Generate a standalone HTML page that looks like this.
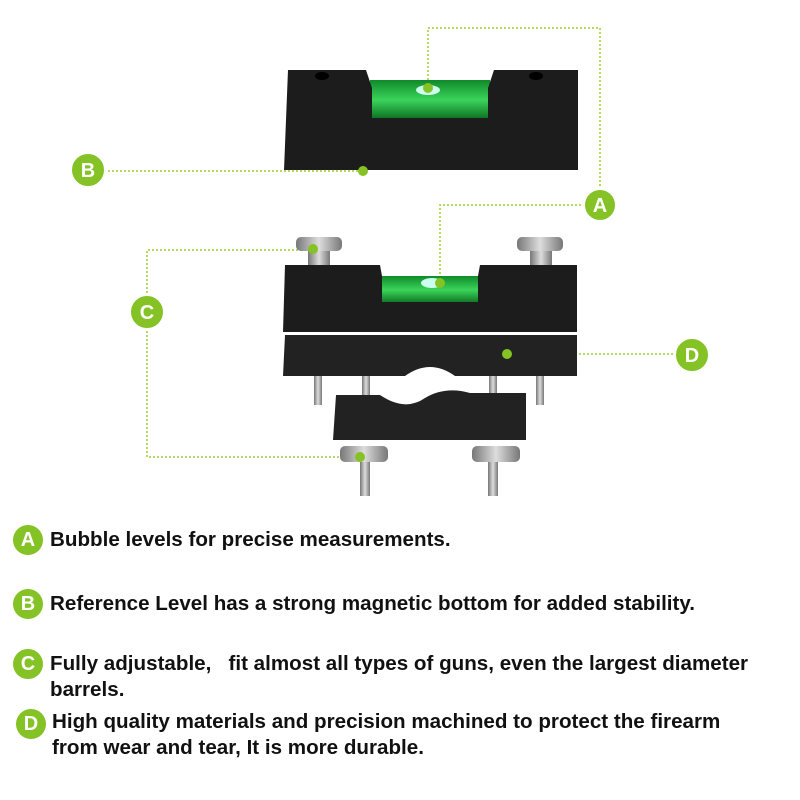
<!DOCTYPE html>
<html><head><style>
body{margin:0;width:800px;height:800px;background:#fff;overflow:hidden;position:relative;font-family:"Liberation Sans",sans-serif}
.t{position:absolute;left:50px;font-weight:bold;font-size:20.6px;color:#111;line-height:26px;white-space:nowrap}
.c{position:absolute;width:30px;height:30px;border-radius:50%;background:#84c225;color:#fff;font-weight:bold;font-size:20px;text-align:center;line-height:30px}
</style></head><body>
<svg width="800" height="520" style="position:absolute;left:0;top:0">
<defs>
<linearGradient id="g" x1="0" y1="0" x2="0" y2="1"><stop offset="0" stop-color="#0f8a2a"/><stop offset=".5" stop-color="#3bd45a"/><stop offset="1" stop-color="#0a6a1e"/></linearGradient>
<linearGradient id="m" x1="0" y1="0" x2="1" y2="0"><stop offset="0" stop-color="#777"/><stop offset=".5" stop-color="#ddd"/><stop offset="1" stop-color="#777"/></linearGradient>
</defs>
<g stroke="#9acd32" stroke-width="1.5" stroke-dasharray="2,2" fill="none">
<polyline points="600,190 600,28 428,28 428,88"/>
<polyline points="100,171 363,171"/>
<polyline points="585,205 440,205 440,283"/>
<polyline points="147,297 147,250 313,250"/>
<polyline points="147,327 147,457 360,457"/>
<polyline points="677,354 507,354"/>
</g>
<rect x="370" y="80" width="120" height="40" fill="url(#g)"/>
<path d="M288,70 L366,70 L372,88 L488,88 L494,70 L578,70 L578,170 L284,170 Z M372,88 L372,118 L488,118 L488,88Z" fill="#1c1c1c" fill-rule="evenodd"/>
<ellipse cx="322" cy="76" rx="7" ry="4" fill="#000"/><ellipse cx="536" cy="76" rx="7" ry="4" fill="#000"/>
<ellipse cx="428" cy="90" rx="12" ry="5" fill="#cfe"/>
<g fill="url(#m)">
<rect x="314" y="370" width="8" height="35"/><rect x="362" y="370" width="8" height="30"/><rect x="489" y="370" width="8" height="30"/><rect x="536" y="370" width="8" height="35"/>
<rect x="360" y="460" width="10" height="36"/><rect x="488" y="460" width="10" height="36"/>
<rect x="308" y="248" width="22" height="22"/><rect x="530" y="248" width="22" height="22"/>
<rect x="296" y="237" width="46" height="14" rx="5"/><rect x="517" y="237" width="46" height="14" rx="5"/>
<rect x="340" y="446" width="48" height="16" rx="5"/><rect x="472" y="446" width="48" height="16" rx="5"/>
</g>
<rect x="380" y="276" width="100" height="28" fill="url(#g)"/>
<path d="M285,265 L380,265 L382,276 L478,276 L480,265 L577,265 L577,332 L283,332 Z M382,276 L382,302 L478,302 L478,276Z" fill="#1c1c1c" fill-rule="evenodd"/>
<ellipse cx="432" cy="283" rx="11" ry="5" fill="#cfe"/>
<path d="M285,335 L577,335 L577,376 L455,376 Q430,358 405,376 L283,376 Z" fill="#222"/>
<path d="M336,395 L380,395 Q405,412 425,398 Q445,386 470,393 L526,393 L526,440 L333,440 Z" fill="#222"/>
<g fill="#84c225"><circle cx="428" cy="88" r="5"/><circle cx="363" cy="171" r="5"/><circle cx="440" cy="283" r="5"/><circle cx="313" cy="249" r="5"/><circle cx="360" cy="457" r="5"/><circle cx="507" cy="354" r="5"/></g>
<g fill="#84c225" stroke="#fff" stroke-width="2"><circle cx="600" cy="205" r="16"/><circle cx="88" cy="170" r="17"/><circle cx="147" cy="312" r="17"/><circle cx="692" cy="355" r="17"/></g>
<g fill="#fff" font-weight="bold" font-size="20" text-anchor="middle" font-family="Liberation Sans,sans-serif"><text x="600" y="212">A</text><text x="88" y="177">B</text><text x="147" y="319">C</text><text x="692" y="362">D</text></g>
</svg>
<div class="c" style="left:13px;top:525px">A</div><div class="t" style="top:527px">Bubble levels for precise measurements.</div>
<div class="c" style="left:13px;top:589px">B</div><div class="t" style="top:591px">Reference Level has a strong magnetic bottom for added stability.</div>
<div class="c" style="left:13px;top:649px">C</div><div class="t" style="top:651px">Fully adjustable,&nbsp;&nbsp; fit almost all types of guns, even the largest diameter<br>barrels.</div>
<div class="c" style="left:16px;top:709px">D</div><div class="t" style="top:709px;left:52px">High quality materials and precision machined to protect the firearm<br>from wear and tear, It is more durable.</div>
</body></html>
